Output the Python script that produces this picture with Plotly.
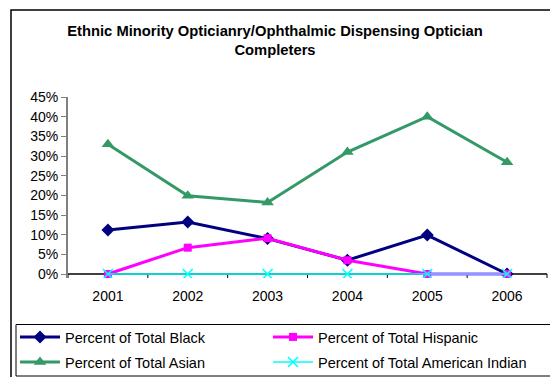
import plotly.graph_objects as go

years = ["2001", "2002", "2003", "2004", "2005", "2006"]
black = [0.112, 0.132, 0.09, 0.035, 0.099, 0.0]
hispanic = [0.0, 0.067, 0.091, 0.035, 0.0, 0.0]
asian = [0.33, 0.199, 0.182, 0.31, 0.40, 0.284]
amindian = [0.0, 0.0, 0.0, 0.0, 0.0, 0.0]
yticks = [0, 0.05, 0.10, 0.15, 0.20, 0.25, 0.30, 0.35, 0.40, 0.45]
ytick_labels = ["0%", "5%", "10%", "15%", "20%", "25%", "30%", "35%", "40%", "45%"]

W, H = 550, 377
ZERO_Y = 274          # pixel row of 0%
TOP_Y = 97            # pixel row of 45%
EXT = 4               # pixels the plot area extends below 0%
L, R, T, B = 68, 3, TOP_Y, H - ZERO_Y - EXT
pw = W - L - R
ph = H - T - B
ymax = 0.45
ymin = -EXT * ymax / (ZERO_Y - TOP_Y)

def px(x):
    return (x - L) / pw

def py(y):
    return (H - B - y) / ph

FONT = "Liberation Sans, Arial, sans-serif"

fig = go.Figure()
fig.add_trace(go.Scatter(x=years, y=black, name="Percent of Total Black", mode="lines+markers",
                         line=dict(color="#000080", width=3),
                         marker=dict(symbol="diamond", size=10, color="#000080"), legend="legend"))
fig.add_trace(go.Scatter(x=years, y=hispanic, name="Percent of Total Hispanic", mode="lines+markers",
                         line=dict(color="#FF00FF", width=3),
                         marker=dict(symbol="square", size=8, color="#FF00FF"), legend="legend2"))
fig.add_trace(go.Scatter(x=years, y=asian, name="Percent of Total Asian", mode="lines+markers",
                         line=dict(color="#339966", width=3),
                         marker=dict(symbol="triangle-up", size=11, color="#339966"), legend="legend3"))
fig.add_trace(go.Scatter(x=years, y=amindian, name="Percent of Total American Indian", mode="lines+markers",
                         line=dict(color="#00FFFF", width=1.5),
                         marker=dict(symbol="x-thin", size=10, color="#00FFFF", line=dict(color="#00FFFF", width=1.5)),
                         legend="legend4"))

legend_common = dict(orientation="h", xanchor="left", yanchor="middle",
                     xref="container", yref="container",
                     font=dict(family=FONT, size=14.5, color="#000000"),
                     itemwidth=40, bgcolor="rgba(0,0,0,0)", borderwidth=0)

col1, col2 = 15, 268
row1, row2 = 337, 362

fig.update_layout(
    width=W, height=H,
    margin=dict(l=L, r=R, t=T, b=B, autoexpand=False),
    paper_bgcolor="white", plot_bgcolor="white",
    font=dict(family=FONT, size=14, color="#000000"),
    title=dict(text="<b>Ethnic Minority Opticianry/Ophthalmic Dispensing Optician<br>Completers</b>",
               x=0.5, xanchor="center", y=1 - 36 / H, yanchor="top", yref="container",
               font=dict(family=FONT, size=14.75, color="#000000")),
    legend=dict(**legend_common, x=col1 / W, y=1 - row1 / H),
    legend2=dict(**legend_common, x=col2 / W, y=1 - row1 / H),
    legend3=dict(**legend_common, x=col1 / W, y=1 - row2 / H),
    legend4=dict(**legend_common, x=col2 / W, y=1 - row2 / H),
    showlegend=True,
    xaxis=dict(type="category", range=[-0.5, 5.5], showgrid=False, zeroline=False,
               showline=False, ticks="", tickfont=dict(size=14), ticklabelstandoff=8),
    yaxis=dict(range=[ymin, ymax], tickvals=yticks, ticktext=ytick_labels, showgrid=False,
               zeroline=False, showline=True, linecolor="#808080", linewidth=2,
               ticks="outside", ticklen=5, tickcolor="#808080", tickwidth=1,
               tickfont=dict(size=14)),
)

shapes = []
# outer chart border
shapes.append(dict(type="rect", xref="paper", yref="paper", x0=px(11), x1=px(560), y0=py(10), y1=py(390),
                   line=dict(color="#000000", width=1.5), layer="below"))
# legend box
shapes.append(dict(type="rect", xref="paper", yref="paper", x0=px(16), x1=px(560), y0=py(324.5), y1=py(376),
                   line=dict(color="#000000", width=1), layer="below"))
# category axis line at 0%
shapes.append(dict(type="line", xref="paper", yref="y", x0=0, x1=1, y0=0, y1=0,
                   line=dict(color="#000000", width=1.5), layer="below"))
for i in range(7):
    xx = i / 6
    shapes.append(dict(type="line", xref="paper", yref="y", x0=xx, x1=xx, y0=0, y1=ymin,
                       line=dict(color="#000000", width=1), layer="below"))
fig.update_layout(shapes=shapes)

fig.write_html("out.html", config={"displayModeBar": False},
               post_script="document.body.style.margin='0';")
